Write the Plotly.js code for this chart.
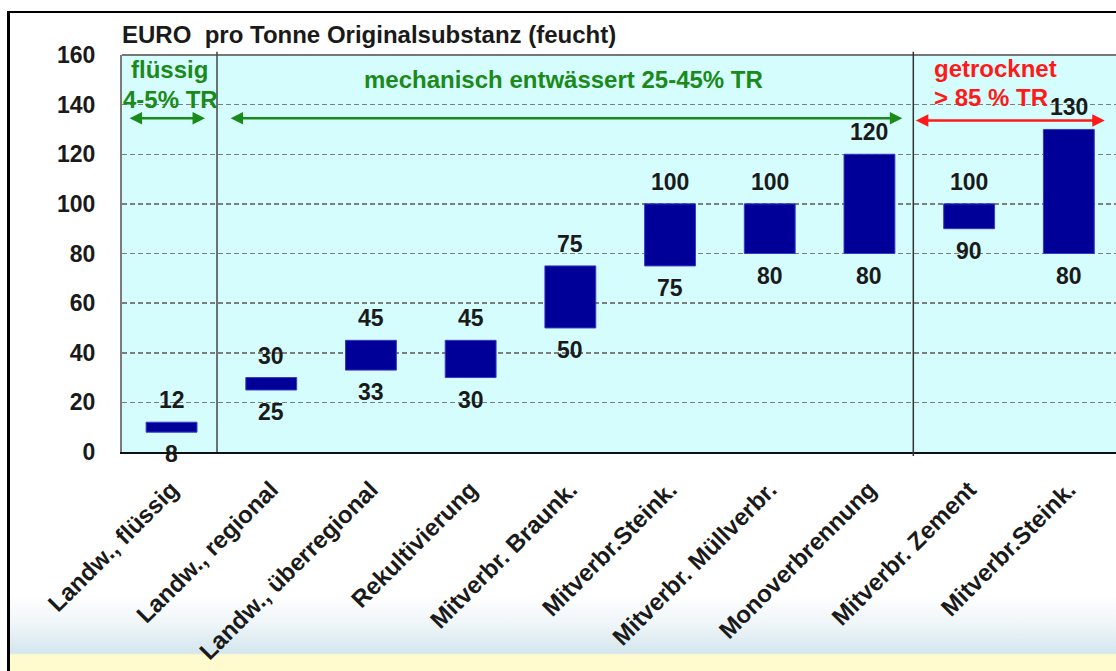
<!DOCTYPE html>
<html>
<head>
<meta charset="utf-8">
<script src="https://cdn.plot.ly/plotly-3.0.1.min.js"></script>
<style>
  html, body { margin: 0; padding: 0; background: #ffffff; }
  #wrap {
    position: relative; width: 1116px; height: 671px; overflow: hidden;
    background: linear-gradient(to bottom, #ffffff 0px, #ffffff 595px, #eef5f8 625px, #d3e6ee 653px, #fffbcf 655px, #fffbcf 671px);
  }
  #frameL { position: absolute; left: 7px; top: 11px; width: 3px; height: 660px; background: #000; }
  #frameT { position: absolute; left: 7px; top: 11px; width: 1109px; height: 2px; background: #000; }
  #whiteL { position: absolute; left: 0; top: 0; width: 7px; height: 671px; background: #fff; }
  #whiteT { position: absolute; left: 0; top: 0; width: 1116px; height: 11px; background: #fff; }
  #chart { position: absolute; left: 0; top: 0; width: 1116px; height: 671px; }
</style>
</head>
<body>
<div id="wrap">
  <div id="whiteL"></div><div id="whiteT"></div>
  <div id="frameL"></div><div id="frameT"></div>
  <div id="chart"></div>
</div>
<script>
// ---- data ----
const categories = ["Landw., flüssig", "Landw., regional", "Landw., überregional", "Rekultivierung",
  "Mitverbr. Braunk.", "Mitverbr.Steink.", "Mitverbr. Müllverbr.", "Monoverbrennung",
  "Mitverbr. Zement", "Mitverbr.Steink."];
const low  = [8, 25, 33, 30, 50, 75, 80, 80, 90, 80];
const high = [12, 30, 45, 45, 75, 100, 100, 120, 100, 130];
const yTicks = [0, 20, 40, 60, 80, 100, 120, 140, 160];
const titleText = "EURO\u00a0 pro Tonne Originalsubstanz (feucht)";
const groupTexts = ["flüssig", "4-5% TR", "mechanisch entwässert 25-45% TR", "getrocknet", "> 85 % TR"];

const idx = categories.map((c, i) => i);
const FONT = "Liberation Sans, Arial, sans-serif";
const GREEN = "#1a8a1a";
const RED = "#ff1a1a";

const bars = {
  type: "bar",
  x: idx,
  y: high.map((h, i) => h - low[i]),
  base: low,
  width: 0.51,
  marker: { color: "#000099", line: { color: "#3838c8", width: 1 } },
  hoverinfo: "skip"
};

const annotations = [];
idx.forEach(i => {
  annotations.push({ x: i, y: high[i], xref: "x", yref: "y", text: String(high[i]), showarrow: false,
    yshift: 22, yanchor: "middle", font: { family: FONT, size: 23, color: "#1a1a1a", weight: "bold" } });
  annotations.push({ x: i, y: low[i], xref: "x", yref: "y", text: String(low[i]), showarrow: false,
    yshift: -22, yanchor: "middle", font: { family: FONT, size: 23, color: "#1a1a1a", weight: "bold" } });
});

// group texts
const gt = [
  { t: groupTexts[0], x: -0.025, y: 154, c: GREEN },
  { t: groupTexts[1], x: -0.015, y: 142, c: GREEN },
  { t: groupTexts[2], x: 3.93, y: 150, c: GREEN },
  { t: groupTexts[3], x: 8.26, y: 154.4, c: RED },
  { t: groupTexts[4], x: 8.22, y: 142.7, c: RED }
];
gt.forEach(g => annotations.push({ x: g.x, y: g.y, xref: "x", yref: "y", text: g.t, showarrow: false,
  xanchor: "center", yanchor: "middle", font: { family: FONT, size: 24, color: g.c, weight: "bold" } }));

// arrows (double-headed)
const arrows = [
  { x0: -0.436, x1: 0.336, y: 134.5, c: GREEN },
  { x0: 0.577, x1: 7.33, y: 134.5, c: GREEN },
  { x0: 7.45, x1: 9.36, y: 133.6, c: RED }
];
arrows.forEach(a => annotations.push({ x: a.x1, y: a.y, ax: a.x0, ay: a.y, xref: "x", yref: "y",
  axref: "x", ayref: "y", text: "", showarrow: true, arrowhead: 2, arrowside: "end+start",
  arrowsize: 1, arrowwidth: 2.5, arrowcolor: a.c, standoff: 0, startstandoff: 0 }));

const shapes = [
  { type: "line", xref: "paper", x0: 0, x1: 1, yref: "y", y0: 60, y1: 60, layer: "between",
    line: { color: "#000000", width: 1.5, dash: "5px,3px" } },
  { type: "line", xref: "paper", x0: 0, x1: 1, yref: "paper", y0: 1, y1: 1,
    line: { color: "#777777", width: 2 } },
  { type: "line", xref: "x", x0: 0.456, x1: 0.456, yref: "paper", y0: 0, y1: 1.008,
    line: { color: "#444444", width: 1.5 } },
  { type: "line", xref: "x", x0: 7.44, x1: 7.44, yref: "paper", y0: -0.01, y1: 1.008,
    line: { color: "#333333", width: 1.5 } }
];

const layout = {
  width: 1116, height: 671,
  margin: { l: 122, r: 0, t: 55, b: 219, pad: 0 },
  paper_bgcolor: "rgba(0,0,0,0)",
  plot_bgcolor: "#d5fdfd",
  showlegend: false,
  title: { text: titleText, x: 122 / 1116, xref: "container", xanchor: "left", y: 1 - 35 / 671, yref: "container",
    yanchor: "middle", font: { family: FONT, size: 24, color: "#1a1a1a", weight: "bold" } },
  xaxis: {
    range: [-0.497, 9.473], tickvals: idx, ticktext: categories, tickangle: -45,
    showgrid: false, zeroline: false, showline: true, linecolor: "#111111", linewidth: 2,
    ticks: "", ticklabelstandoff: 12, tickfont: { family: FONT, size: 24, color: "#1a1a1a", weight: "bold" }, fixedrange: true
  },
  yaxis: {
    range: [0, 160], tickvals: yTicks, showgrid: true, gridcolor: "#7f7f7f", gridwidth: 1.5,
    griddash: "5px,3px", zeroline: false, showline: true, linecolor: "#7a7a7a", linewidth: 2,
    ticks: "", ticklabelstandoff: 20, tickfont: { family: FONT, size: 23, color: "#1a1a1a", weight: "bold" },
    fixedrange: true
  },
  shapes: shapes,
  annotations: annotations
};

Plotly.newPlot("chart", [bars], layout, { staticPlot: true, displayModeBar: false });
</script>
</body>
</html>
